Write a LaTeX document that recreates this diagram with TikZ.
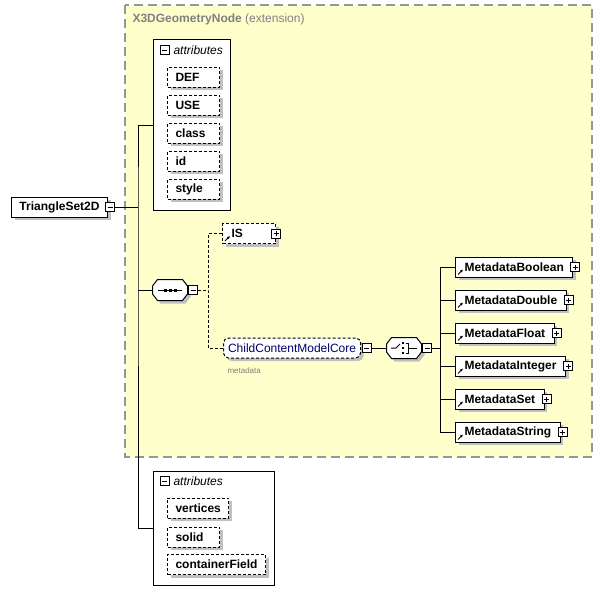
\documentclass[tikz,border=0pt]{standalone}
\usepackage{fontspec}
\setmainfont{Liberation Sans}
\usetikzlibrary{positioning}
\usetikzlibrary{shadows}
\usetikzlibrary{arrows.meta}
\definecolor{extfill}{RGB}{255,255,204}
\definecolor{extline}{RGB}{150,150,150}
\definecolor{extname}{RGB}{128,128,128}
\definecolor{shadowgray}{RGB}{192,192,192}
\definecolor{grpname}{RGB}{0,0,110}
\newcommand\diagfont{\fontsize{12}{14}\selectfont}
\tikzset{
  shadowed/.style={general shadow={fill=shadowgray,shadow xshift=3pt,shadow yshift=-3pt}},
  elem/.style={draw,fill=white,shadowed,anchor=west,minimum height=20pt,
    inner xsep=8pt,inner ysep=0pt,font=\diagfont\bfseries},
  opt/.style={dash pattern=on 3pt off 2pt},
  attr/.style={elem,opt},
  short/.style={text width=36pt},
  ref/.style={elem,inner xsep=9pt,
    path picture={\draw[solid,line width=.8pt,-{Latex[length=3pt,width=3pt]}]
      ([shift={(2.5pt,2.5pt)}]path picture bounding box.south west) -- +(5pt,5pt);}},
  grpref/.style={draw,opt,fill=white,shadowed,rounded corners=5pt,anchor=west,
    minimum height=20pt,inner xsep=4.5pt,inner ysep=0pt,text=grpname},
  grp/.style={draw,fill=white,anchor=north west,inner sep=0pt},
  grplbl/.style={anchor=west,inner sep=0pt,font=\diagfont\itshape},
  pm/.style={draw,solid,fill=white,minimum size=9pt,inner sep=0pt,anchor=west},
  minus/.style={pm,path picture={
    \draw ([xshift=2pt]path picture bounding box.west) -- ([xshift=-2pt]path picture bounding box.east);}},
  plus/.style={pm,path picture={
    \draw ([xshift=2pt]path picture bounding box.west) -- ([xshift=-2pt]path picture bounding box.east);
    \draw ([yshift=2pt]path picture bounding box.south) -- ([yshift=-2pt]path picture bounding box.north);}},
  compositor/.style={minimum width=34pt,minimum height=20pt,inner sep=0pt},
  compline/.style={fill=white,shadowed},
  anno/.style={anchor=west,inner sep=0pt,text=extname,font=\fontsize{8}{9}\selectfont}
}

\begin{document}
\begin{tikzpicture}[x=1pt,y=-1pt,line width=1pt,font=\diagfont]
  \useasboundingbox (0,0) rectangle (602,605);

  % extension area
  \draw[extline,fill=extfill,line width=1.2pt,dash pattern=on 9pt off 5pt] (125,5) rectangle (592,457);
  \node[anchor=west,inner sep=0pt,text=extname] (extlbl) at (132,19) {\textbf{X3DGeometryNode} (extension)};

  % root element
  \node[elem] (tri) at (11,207) {TriangleSet2D};
  \node[minus] (trim) at ([xshift=-3pt]tri.east) {};

  % inherited attributes
  \node[grp,minimum width=77pt,minimum height=171pt] (attrs) at (153,39) {};
  \node[minus] (attrsm) at (159.5,50) {};
  \node[grplbl] (attrslbl) at (173,50) {attributes};
  \node[attr,short] (def) at (167,77) {DEF};
  \node[attr,short] (use) at (167,105) {USE};
  \node[attr,short] (class) at (167,133) {class};
  \node[attr,short] (id) at (167,161) {id};
  \node[attr,short] (style) at (167,189) {style};

  % own attributes
  \node[grp,minimum width=121pt,minimum height=114pt] (props) at (153,471) {};
  \node[minus] (propsm) at (159.5,481) {};
  \node[grplbl] (propslbl) at (173,481) {attributes};
  \node[attr] (vert) at (167,508) {vertices};
  \node[attr,short] (solid) at (167,537) {solid};
  \node[attr] (cfield) at (167,564.5) {containerField};

  % compositors
  \node[compositor] (seq) at (170,290) {};
  \node[compositor] (cho) at (404,348) {};
  \foreach \c in {seq,cho}
    \draw[compline] ([yshift=4pt]\c.west) -- ([xshift=5pt]\c.north west) -- ([xshift=-5pt]\c.north east)
      -- ([yshift=4pt]\c.east) -- ([yshift=-4pt]\c.east) -- ([xshift=-5pt]\c.south east)
      -- ([xshift=5pt]\c.south west) -- ([yshift=-4pt]\c.west) -- cycle;

  % sequence
  \draw (seq.center) +(-12,0) -- +(12,0);
  \foreach \dx in {-5,0,5}
    \fill ([shift={(\dx-1.5,-1.5)}]seq.center) rectangle +(3,3);
  \node[minus] (seqm) at ([xshift=.5pt]seq.east) {};

  \node[ref,opt,text width=35pt] (is) at (222,233.5) {IS};
  \node[plus] (isp) at ([xshift=-5pt]is.east) {};
  \node[grpref] (ccm) at (223,348) {ChildContentModelCore};
  \node[minus] (ccmm) at ([xshift=.5pt]ccm.east) {};
  \node[anno] (ccmlbl) at (227,371) {metadata};

  % choice
  \draw (cho.center) +(-13,0) -- +(-8,0) -- +(-4,-4);
  \foreach \dy in {-5,0,5}
    \fill ([shift={(-2,\dy-1.2)}]cho.center) rectangle +(2.4,2.4);
  \draw (cho.center) +(1.5,-5) -- +(4,-5) -- +(4,5) -- +(1.5,5);
  \draw (cho.center) +(4,0) -- +(13,0);
  \node[minus] (chom) at ([xshift=.5pt]cho.east) {};

  \node[ref] (mdbool) at (455,267) {MetadataBoolean};
  \node[plus] (mdboolp) at ([xshift=-3pt]mdbool.east) {};
  \node[ref] (mddouble) at (455,300) {MetadataDouble};
  \node[plus] (mddoublep) at ([xshift=-3pt]mddouble.east) {};
  \node[ref] (mdfloat) at (455,333) {MetadataFloat};
  \node[plus] (mdfloatp) at ([xshift=-3pt]mdfloat.east) {};
  \node[ref] (mdint) at (455,366) {MetadataInteger};
  \node[plus] (mdintp) at ([xshift=-3pt]mdint.east) {};
  \node[ref] (mdset) at (455,399) {MetadataSet};
  \node[plus] (mdsetp) at ([xshift=-3pt]mdset.east) {};
  \node[ref] (mdstring) at (455,432) {MetadataString};
  \node[plus] (mdstringp) at ([xshift=-3pt]mdstring.east) {};

  % connectors
  \coordinate (trunk) at (138,207);
  \draw (trim.east) -- (trunk);
  \draw (attrs.west) -| (trunk) |- (props.west);
  \draw (trunk |- seq.west) -- (seq.west);
  \draw[opt] (seqm.east) -- ++(10,0) coordinate (seqj);
  \draw[opt] (is.west) -| (seqj) |- (ccm.west);
  \draw (ccmm.east) -- (cho.west);
  \draw (chom.east) -- ([xshift=-15pt]chom.east -| mdfloat.west);
  \draw (mdbool.west) -| ([xshift=-15pt]mdbool.west) |- (mdstring.west);
  \draw (mddouble.west) -- +(-15,0);
  \draw (mdfloat.west) -- +(-15,0);
  \draw (mdint.west) -- +(-15,0);
  \draw (mdset.west) -- +(-15,0);
\end{tikzpicture}
\end{document}
